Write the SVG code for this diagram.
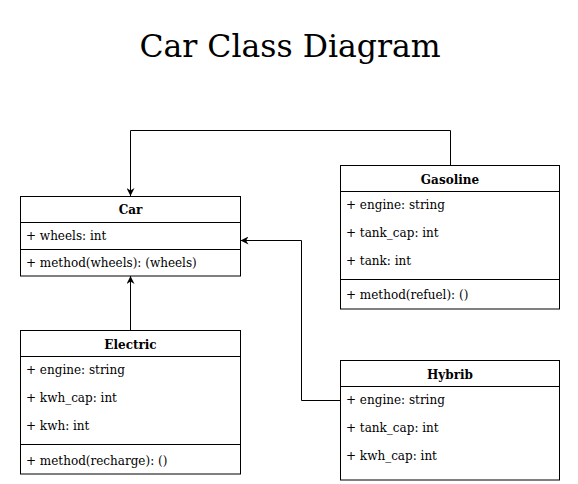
<svg xmlns="http://www.w3.org/2000/svg" width="578" height="484" viewBox="0 0 578 484">
<style>
.box{fill:#fff;stroke:#000;stroke-width:1}
.ln{stroke:#000;stroke-width:1;fill:none}
.t{font-family:"DejaVu Serif",serif;font-size:12px;fill:#000}
.h{font-family:"DejaVu Serif",serif;font-size:12px;font-weight:bold;fill:#000;text-anchor:middle}
.title{font-family:"DejaVu Serif",serif;font-size:31.5px;fill:#000;text-anchor:middle}
</style>
<defs>
<marker id="arr" viewBox="0 0 10 10" refX="10" refY="5" markerWidth="8" markerHeight="8" markerUnits="userSpaceOnUse" orient="auto">
<path d="M0,0 L10,5 L0,10 L3,5 Z" fill="#000"/>
</marker>
</defs>
<rect width="578" height="484" fill="#fff"/>
<text class="title" x="290" y="57">Car Class Diagram</text>
<g id="connectors">
<path class="ln" d="M450.5,165 V130.5 H130.5 V196" marker-end="url(#arr)"/>
<path class="ln" d="M130.5,331 V276" marker-end="url(#arr)"/>
<path class="ln" d="M340,400.5 H301.5 V240.5 H240.5" marker-end="url(#arr)"/>
</g>
<g id="Car">
<rect class="box" x="20.5" y="196.5" width="220" height="79.5"/>
<path class="ln" d="M20.5,222.5 H240.5 M20.5,249.5 H240.5"/>
<text class="h" x="130.5" y="214">Car</text>
<text class="t" x="26" y="240">+ wheels: int</text>
<text class="t" x="26" y="267">+ method(wheels): (wheels)</text>
</g>
<g id="Gasoline">
<rect class="box" x="340.5" y="165.5" width="219" height="143.5"/>
<path class="ln" d="M340.5,191.5 H559.5 M340.5,279.5 H559.5"/>
<text class="h" x="450" y="184">Gasoline</text>
<text class="t" x="346" y="209">+ engine: string</text>
<text class="t" x="346" y="237">+ tank_cap: int</text>
<text class="t" x="346" y="265">+ tank: int</text>
<text class="t" x="346" y="299">+ method(refuel): ()</text>
</g>
<g id="Electric">
<rect class="box" x="20.5" y="330.5" width="220" height="143.5"/>
<path class="ln" d="M20.5,356.5 H240.5 M20.5,444.5 H240.5"/>
<text class="h" x="130.5" y="349">Electric</text>
<text class="t" x="26" y="374">+ engine: string</text>
<text class="t" x="26" y="402">+ kwh_cap: int</text>
<text class="t" x="26" y="430">+ kwh: int</text>
<text class="t" x="26" y="465">+ method(recharge): ()</text>
</g>
<g id="Hybrib">
<rect class="box" x="340.5" y="360.5" width="219" height="119.5"/>
<path class="ln" d="M340.5,386.5 H559.5"/>
<text class="h" x="450" y="379">Hybrib</text>
<text class="t" x="346" y="404">+ engine: string</text>
<text class="t" x="346" y="432">+ tank_cap: int</text>
<text class="t" x="346" y="460">+ kwh_cap: int</text>
</g>
</svg>
